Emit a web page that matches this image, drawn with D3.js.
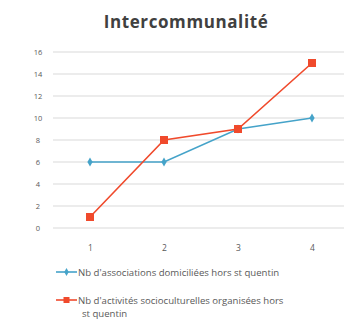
<!DOCTYPE html>
<html>
<head>
<meta charset="utf-8">
<script src="https://cdn.jsdelivr.net/npm/d3@7"></script>
<style>
  html, body { margin: 0; padding: 0; background: #fff; }
  svg { display: block; }
</style>
</head>
<body>
<svg id="chart" width="344" height="323"></svg>
<script>
// Chart data
const categories = [1, 2, 3, 4];
const seriesNames = [
  "Nb d'associations domiciliées hors st quentin",
  "Nb d'activités socioculturelles organisées hors st quentin"
];
const associations = [6, 6, 9, 10];
const activites = [1, 8, 9, 15];
const yTicks = [0, 2, 4, 6, 8, 10, 12, 14, 16];
const title = "Intercommunalité";

const colors = ["#45a3c9", "#f04a2c"];
const svg = d3.select("#chart");

const x = d3.scalePoint().domain(categories).range([53, 349]).padding(0.5);
const y = d3.scaleLinear().domain([0, 16]).range([228, 52]);

// Title
svg.append("text")
  .attr("x", 186).attr("y", 28)
  .attr("text-anchor", "middle")
  .attr("font-family", "Open Sans, sans-serif")
  .attr("font-weight", 700)
  .attr("font-size", 17)
  .attr("letter-spacing", 0.6)
  .attr("fill", "#404040")
  .text(title);

// Horizontal gridlines
svg.append("g").selectAll("line")
  .data(yTicks).join("line")
  .attr("x1", 53).attr("x2", 344)
  .attr("y1", d => y(d)).attr("y2", d => y(d))
  .attr("stroke", "#d9d9d9").attr("stroke-width", 1);

// Y axis labels
const yAxis = d3.axisLeft(y).tickValues(yTicks).tickSize(0).tickPadding(0);
const yg = svg.append("g").attr("transform", "translate(38,0)").call(yAxis);
yg.select(".domain").remove();
yg.selectAll("text")
  .attr("font-family", "Open Sans, sans-serif")
  .attr("font-size", 7.5)
  .attr("fill", "#595959")
  .attr("text-anchor", "middle");

// X axis labels
const xAxis = d3.axisBottom(x).tickSize(0).tickPadding(0);
const xg = svg.append("g").attr("transform", "translate(0,245)").call(xAxis);
xg.select(".domain").remove();
xg.selectAll("text")
  .attr("font-family", "Open Sans, sans-serif")
  .attr("font-size", 8.5)
  .attr("fill", "#595959");

const line = d3.line().x((d, i) => x(categories[i])).y(d => y(d));

// Series 1: line with diamond markers
svg.append("path").datum(associations)
  .attr("d", line).attr("fill", "none")
  .attr("stroke", colors[0]).attr("stroke-width", 1.6);
svg.append("g").selectAll("path")
  .data(associations).join("path")
  .attr("d", d3.symbol(d3.symbolDiamond, 24))
  .attr("transform", (d, i) => `translate(${x(categories[i])},${y(d)})`)
  .attr("fill", colors[0]);

// Series 2: line with square markers
svg.append("path").datum(activites)
  .attr("d", line).attr("fill", "none")
  .attr("stroke", colors[1]).attr("stroke-width", 1.6);
svg.append("g").selectAll("rect")
  .data(activites).join("rect")
  .attr("x", (d, i) => x(categories[i]) - 4)
  .attr("y", d => y(d) - 4)
  .attr("width", 8).attr("height", 8)
  .attr("fill", colors[1]);

// Legend
const legend = svg.append("g");
const legendFont = { family: "Open Sans, sans-serif", size: 9.6 };
// entry 1
legend.append("line").attr("x1", 56).attr("x2", 77).attr("y1", 272).attr("y2", 272)
  .attr("stroke", colors[0]).attr("stroke-width", 1.6);
legend.append("path").attr("d", d3.symbol(d3.symbolDiamond, 18))
  .attr("transform", "translate(66.5,272)").attr("fill", colors[0]);
legend.append("text").attr("x", 78).attr("y", 275.5)
  .attr("font-family", legendFont.family).attr("font-size", legendFont.size)
  .attr("fill", "#595959").text(seriesNames[0]);
// entry 2 (wrapped over two lines)
legend.append("line").attr("x1", 56).attr("x2", 77).attr("y1", 300).attr("y2", 300)
  .attr("stroke", colors[1]).attr("stroke-width", 1.6);
legend.append("rect").attr("x", 63.5).attr("y", 297).attr("width", 6).attr("height", 6)
  .attr("fill", colors[1]);
const t2 = legend.append("text")
  .attr("font-family", legendFont.family).attr("font-size", legendFont.size)
  .attr("fill", "#595959");
const words2 = seriesNames[1].split(" ");
t2.append("tspan").attr("x", 78).attr("y", 303.5).text(words2.slice(0, -2).join(" "));
t2.append("tspan").attr("x", 82).attr("y", 317).text(words2.slice(-2).join(" "));
</script>
</body>
</html>
